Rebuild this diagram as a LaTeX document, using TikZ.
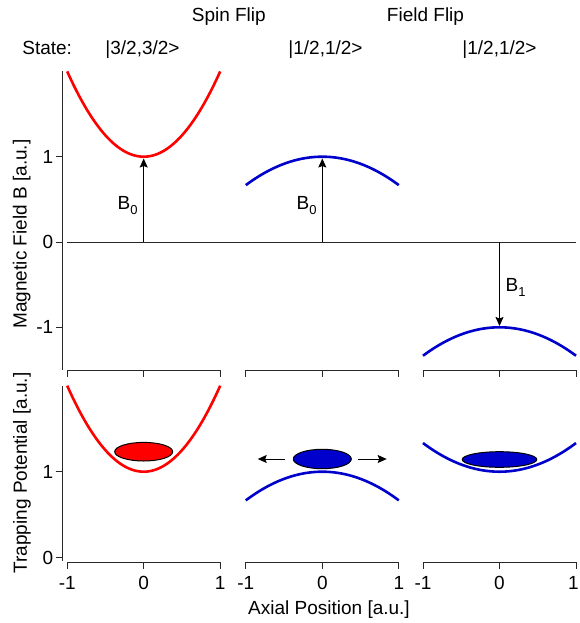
\documentclass[tikz,border=0pt]{standalone}
\usepackage{fontspec}
\setmainfont{Liberation Sans}
\usetikzlibrary{arrows.meta,shapes.geometric}
\definecolor{cred}{RGB}{255,0,0}
\definecolor{cblue}{RGB}{0,0,204}
\definecolor{axcol}{RGB}{40,40,40}
\begin{document}
\begin{tikzpicture}[x=1pt,y=-1pt,
  axis/.style={draw=axcol, line width=1pt},
  curvered/.style={draw=cred, line width=2.6pt},
  curveblue/.style={draw=cblue, line width=2.6pt},
  lbl/.style={font=\fontsize{19}{22}\selectfont, inner sep=0pt},
  ticklbl/.style={font=\fontsize{19}{22}\selectfont, inner sep=0pt},
  vec/.style={draw=black, line width=1pt, -{Stealth[length=9pt,width=8pt,inset=1.5pt]}},
  cloud/.style={ellipse, draw=black, line width=1pt, inner sep=0pt},
]
\useasboundingbox (0,0) rectangle (579,623);

% ---------- titles ----------
\node[lbl, anchor=base] (tspin) at (228.8,21.7) {Spin Flip};
\node[lbl, anchor=base] (tfield) at (425.5,21.7) {Field Flip};
\node[lbl, anchor=base] (tstate) at (47.2,54.3) {State:};
\node[lbl, anchor=base] (s1) at (142.5,54.3) {|3/2,3/2>};
\node[lbl, anchor=base] (s2) at (325.5,54.3) {|1/2,1/2>};
\node[lbl, anchor=base] (s3) at (499.5,54.3) {|1/2,1/2>};

% ---------- top panel axes ----------
\draw[axis] (62.3,71) -- (62.3,370);
\foreach \v/\t in {1/1,0/0,-1/-1}{
  \draw[axis] (55.5,{242-85.3*\v}) -- (62.3,{242-85.3*\v});
  \node[ticklbl, anchor=east] at (53.5,{242-85.3*\v}) {\t};
}
\foreach \c in {143.7,322.3,499.5}{
  \draw[axis] ({\c-76.5},377) -- ({\c-76.5},370.5) -- ({\c+76.5},370.5) -- ({\c+76.5},377);
  \draw[axis] (\c,370.5) -- (\c,377);
}
\draw[axis] (66.7,242) -- (576,242);

% ---------- bottom panel axes ----------
\draw[axis] (62.3,386) -- (62.3,561);
\foreach \v/\t in {1/1,0/0}{
  \draw[axis] (55.5,{557.7-86*\v}) -- (62.3,{557.7-86*\v});
  \node[ticklbl, anchor=east] at (53.5,{557.7-86*\v}) {\t};
}
\foreach \c in {143.7,322.3,499.5}{
  \draw[axis] ({\c-76.5},568.5) -- ({\c-76.5},562.7) -- ({\c+76.5},562.7) -- ({\c+76.5},568.5);
  \draw[axis] (\c,562.7) -- (\c,568.5);
  \node[ticklbl, anchor=base] at ({\c-76.5},589.5) {-1};
  \node[ticklbl, anchor=base] at (\c,589.5) {0};
}
\node[ticklbl, anchor=base] at (220.2,589.5) {1};
\node[ticklbl, anchor=base] at (398.8,589.5) {1};
\node[ticklbl, anchor=base east] at (579,589.5) {1};

% ---------- axis titles ----------
\node[lbl, anchor=base, rotate=90] (ylab1) at (26.5,234) {Magnetic Field B [a.u.]};
\node[lbl, anchor=base, rotate=90] (ylab2) at (27,473) {Trapping Potential [a.u.]};
\node[lbl, anchor=base] (xlab) at (329,614) {Axial Position [a.u.]};

% ---------- top curves ----------
\draw[curvered] plot[domain=-1:1, samples=80, smooth] ({143.7+76.5*\x},{242-85.3*(1+\x*\x)});
\draw[curveblue] plot[domain=-1:1, samples=80, smooth] ({322.3+76.5*\x},{242-85.3*(1-\x*\x/3)});
\draw[curveblue] plot[domain=-1:1, samples=80, smooth] ({499.5+76.5*\x},{242-85.3*(-1-\x*\x/3)});

% ---------- field arrows ----------
\coordinate (z1) at (143.7,242);
\coordinate (m1) at (143.7,158.5);
\coordinate (z2) at (322.3,242);
\coordinate (m2) at (322.3,158.5);
\coordinate (z3) at (499.5,242);
\coordinate (m3) at (499.5,326);
\draw[vec] (z1) -- (m1);
\draw[vec] (z2) -- (m2);
\draw[vec] (z3) -- (m3);
\node[lbl, anchor=base west] (b1) at (117.5,209) {B\raisebox{-0.3em}{\fontsize{13}{13}\selectfont 0}};
\node[lbl, anchor=base west] (b2) at (296.5,209) {B\raisebox{-0.3em}{\fontsize{13}{13}\selectfont 0}};
\node[lbl, anchor=base west] (b3) at (505.5,291) {B\raisebox{-0.3em}{\fontsize{13}{13}\selectfont 1}};

% ---------- bottom curves ----------
\draw[curvered] plot[domain=-1:1, samples=80, smooth] ({143.7+76.5*\x},{557.7-86*(1+\x*\x)});
\draw[curveblue] plot[domain=-1:1, samples=80, smooth] ({322.3+76.5*\x},{557.7-86*(1-\x*\x/3)});
\draw[curveblue] plot[domain=-1:1, samples=80, smooth] ({499.5+76.5*\x},{557.7-86*(1+\x*\x/3)});

% ---------- atom clouds ----------
\node[cloud, fill=cred, minimum width=58pt, minimum height=18.6pt] (e1) at (143.7,451.7) {};
\node[cloud, fill=cblue, minimum width=58pt, minimum height=19.4pt] (e2) at (322.3,459) {};
\node[cloud, fill=cblue, minimum width=74.6pt, minimum height=15.6pt] (e3) at (499.5,459.5) {};

% ---------- expansion arrows ----------
\coordinate (la) at (285,459);
\coordinate (lb) at (257.7,459);
\coordinate (ra) at (358,459);
\coordinate (rb) at (386.7,459);
\draw[vec] (la) -- (lb);
\draw[vec] (ra) -- (rb);
\end{tikzpicture}
\end{document}
